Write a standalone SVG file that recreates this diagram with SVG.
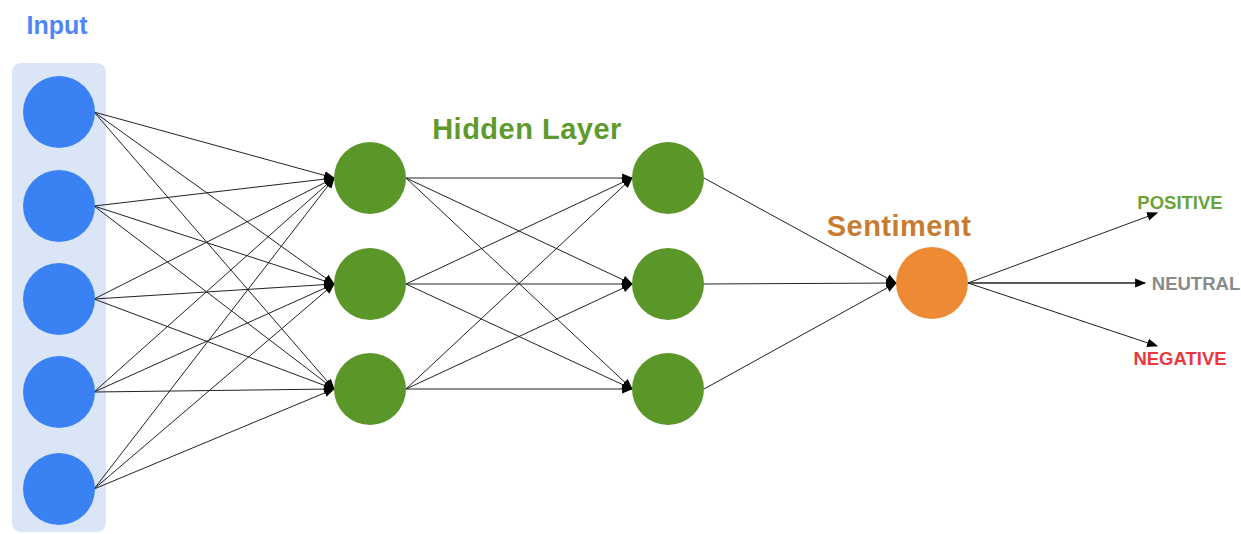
<svg xmlns="http://www.w3.org/2000/svg" width="1241" height="534" viewBox="0 0 1241 534">
  <defs>
    <marker id="arrow" viewBox="0 0 10 10" refX="9" refY="5" markerWidth="11" markerHeight="11" markerUnits="userSpaceOnUse" orient="auto">
      <path d="M0,1 L10,5 L0,9 z" fill="#000"/>
    </marker>
    <style>
      .edge { stroke: #222; stroke-width: 1; fill: none; marker-end: url(#arrow); }
      .in { fill: #3a82f4; }
      .hid { fill: #5b9628; }
      .out { fill: #ed8a33; }
      .title { font-family: "Liberation Sans", Arial, sans-serif; font-weight: bold; }
      .big { font-size: 29px; letter-spacing: 0.5px; }
      .cls { font-size: 18.5px; }
    </style>
  </defs>

  <rect width="1241" height="534" fill="#fff"/>

  <!-- input panel -->
  <rect x="12" y="63" width="94" height="469" rx="9" fill="#dbe5f8"/>

  <!-- connectors -->
  <g id="connectors">
    <!-- input -> hidden 1 -->
    <path class="edge" d="M94,112 L334,178"/>
    <path class="edge" d="M94,112 L334,284"/>
    <path class="edge" d="M94,112 L334,389"/>
    <path class="edge" d="M94,206 L334,178"/>
    <path class="edge" d="M94,206 L334,284"/>
    <path class="edge" d="M94,206 L334,389"/>
    <path class="edge" d="M94,299 L334,178"/>
    <path class="edge" d="M94,299 L334,284"/>
    <path class="edge" d="M94,299 L334,389"/>
    <path class="edge" d="M94,392 L334,178"/>
    <path class="edge" d="M94,392 L334,284"/>
    <path class="edge" d="M94,392 L334,389"/>
    <path class="edge" d="M94,489 L334,178"/>
    <path class="edge" d="M94,489 L334,284"/>
    <path class="edge" d="M94,489 L334,389"/>
    <!-- hidden 1 -> hidden 2 -->
    <path class="edge" d="M406,178 L632,178"/>
    <path class="edge" d="M406,178 L632,284"/>
    <path class="edge" d="M406,178 L632,389"/>
    <path class="edge" d="M406,284 L632,178"/>
    <path class="edge" d="M406,284 L632,284"/>
    <path class="edge" d="M406,284 L632,389"/>
    <path class="edge" d="M406,389 L632,178"/>
    <path class="edge" d="M406,389 L632,284"/>
    <path class="edge" d="M406,389 L632,389"/>
    <!-- hidden 2 -> sentiment -->
    <path class="edge" d="M704,178 L896,283"/>
    <path class="edge" d="M704,284 L896,283"/>
    <path class="edge" d="M704,389 L896,283"/>
    <!-- sentiment -> classes -->
    <path class="edge" d="M968,283 L1157,213"/>
    <path class="edge" d="M968,283 L1145,283" style="stroke-width:1.5"/>
    <path class="edge" d="M968,283 L1157,346"/>
  </g>

  <!-- input layer -->
  <g id="input-layer">
    <text class="title" x="57" y="34" font-size="25" fill="#4f86f7" text-anchor="middle">Input</text>
    <circle id="in1" class="in" cx="59" cy="112" r="36"/>
    <circle id="in2" class="in" cx="59" cy="206" r="36"/>
    <circle id="in3" class="in" cx="59" cy="299" r="36"/>
    <circle id="in4" class="in" cx="59" cy="392" r="36"/>
    <circle id="in5" class="in" cx="59" cy="489" r="36"/>
  </g>

  <!-- hidden layers -->
  <text class="title big" x="527" y="139" fill="#5e9a2e" text-anchor="middle">Hidden Layer</text>
  <g id="hidden1">
    <circle id="h1a" class="hid" cx="370" cy="178" r="36"/>
    <circle id="h1b" class="hid" cx="370" cy="284" r="36"/>
    <circle id="h1c" class="hid" cx="370" cy="389" r="36"/>
  </g>
  <g id="hidden2">
    <circle id="h2a" class="hid" cx="668" cy="178" r="36"/>
    <circle id="h2b" class="hid" cx="668" cy="284" r="36"/>
    <circle id="h2c" class="hid" cx="668" cy="389" r="36"/>
  </g>

  <!-- output -->
  <g id="sentiment">
    <text class="title big" x="899" y="236" fill="#c97b30" text-anchor="middle">Sentiment</text>
    <circle class="out" cx="932" cy="283" r="36"/>
  </g>

  <g id="positive">
    <text class="title cls" x="1180" y="209" fill="#6aa338" text-anchor="middle">POSITIVE</text>
  </g>
  <g id="neutral">
    <text class="title cls" x="1196" y="290" fill="#8a8a8a" text-anchor="middle">NEUTRAL</text>
  </g>
  <g id="negative">
    <text class="title cls" x="1180" y="365" fill="#e83a3a" text-anchor="middle">NEGATIVE</text>
  </g>
</svg>
